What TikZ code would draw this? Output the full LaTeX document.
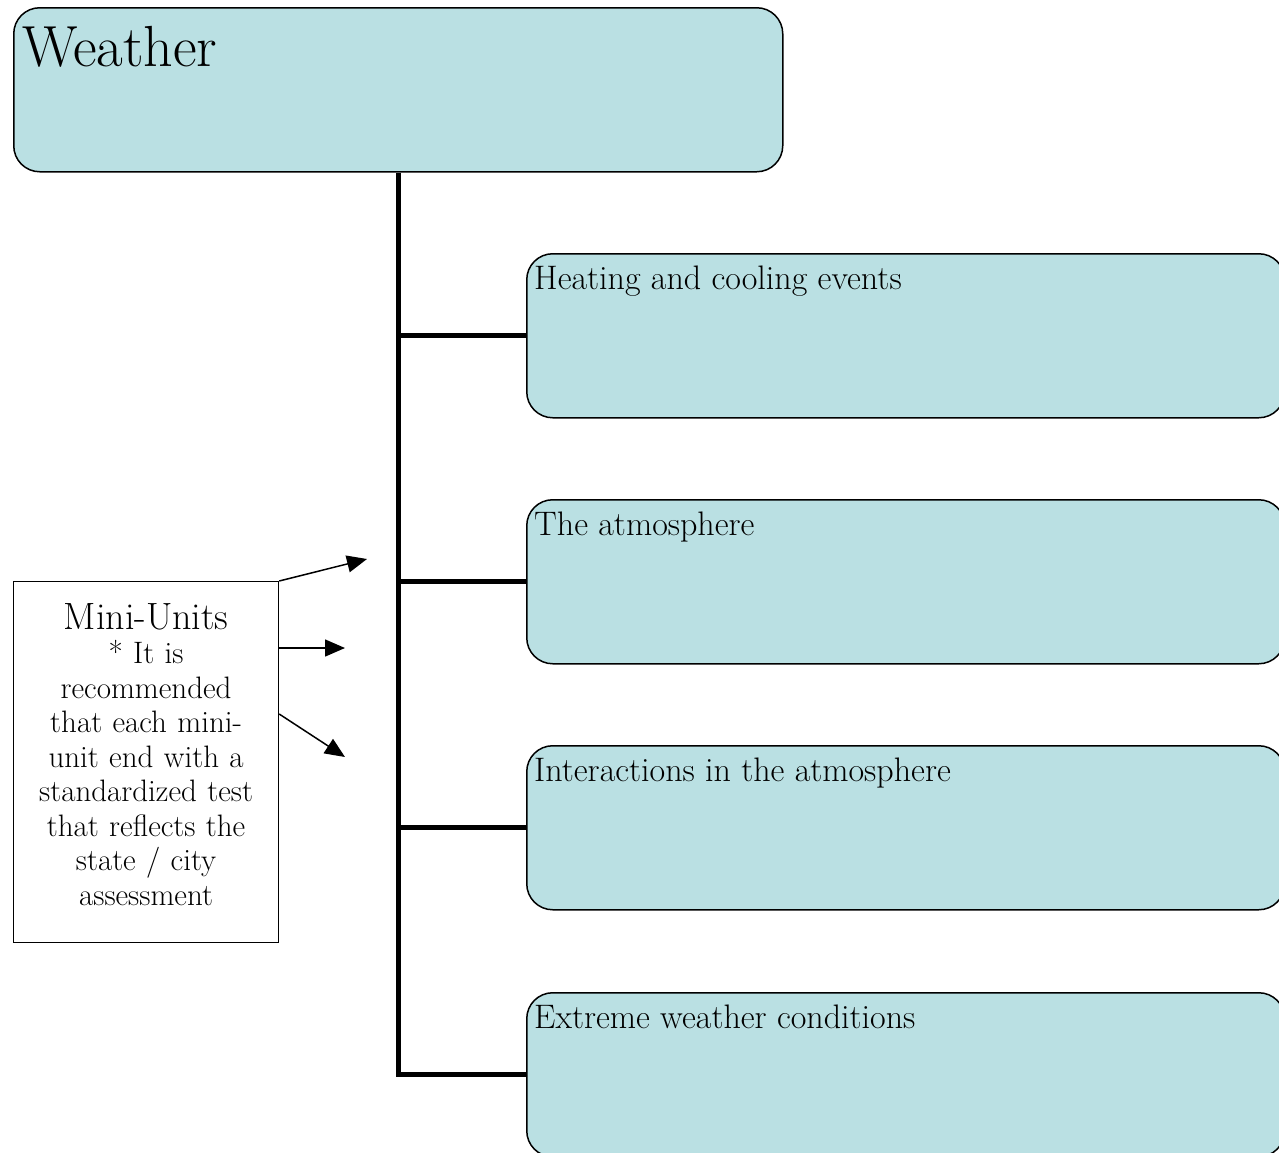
\documentclass[tikz,border=0pt]{standalone}
\usepackage{tikz}
\usetikzlibrary{arrows.meta}
\definecolor{boxblue}{RGB}{186,224,227}

\begin{document}
\begin{tikzpicture}[x=1pt,y=-1pt,
topicbox/.style={rectangle, rounded corners=26pt, draw=black, fill=boxblue, line width=1.5pt, anchor=north west, minimum width=758pt, minimum height=164pt},
topictext/.style={anchor=north west, inner sep=0pt, font=\fontsize{34}{40}\selectfont},
notebox/.style={rectangle, draw=black, fill=white, line width=1.2pt, anchor=north west, minimum width=265pt, minimum height=361pt, text width=258pt, align=center, font=\fontsize{31}{34.5}\selectfont},
branch/.style={line width=5pt},
pointer/.style={line width=1.5pt, -{Triangle[length=20pt,width=17pt]}}
]
    \useasboundingbox (0,0) rectangle (1279,1152);
    \clip (0,0) rectangle (1279,1152);

    \node [topicbox, minimum width=769pt] (weather) at (13,7) {};
    \node [topictext, font=\fontsize{58}{64}\selectfont] (weather-t) at (22,26) {Weather};

    \node [topicbox] (heat) at (526,253) {};
    \node [topicbox] (atmos) at (526,499) {};
    \node [topicbox] (inter) at (526,745) {};
    \node [topicbox] (extreme) at (526,992) {};

    \node [topictext] (heat-t) at (534,266) {Heating and cooling events};
    \node [topictext] (atmos-t) at (534,512) {The atmosphere};
    \node [topictext] (inter-t) at (534,758) {Interactions in the atmosphere};
    \node [topictext] (extreme-t) at (534,1005) {Extreme weather conditions};

    \draw [branch] (weather.south) |- (extreme.west);
    \draw [branch] (weather.south |- heat.west) -- (heat.west);
    \draw [branch] (weather.south |- atmos.west) -- (atmos.west);
    \draw [branch] (weather.south |- inter.west) -- (inter.west);

    \node [notebox] (mini) at (13,581) {{\fontsize{38}{40}\selectfont Mini-Units}\\
        {*} It is\\ recommended\\ that each mini-\\ unit end with a\\ standardized test\\
        that reflects the\\ state / city\\ assessment\\[-18.5pt]\mbox{}};

    \coordinate (tip1) at (367,559);
    \coordinate (tip2) at (345,648);
    \coordinate (tip3) at (345,757);
    \draw [pointer] (mini.north east) -- (tip1);
    \draw [pointer] (mini.east |- tip2) -- (tip2);
    \draw [pointer] ([yshift=-133pt]mini.north east) -- (tip3);
\end{tikzpicture}
\end{document}
